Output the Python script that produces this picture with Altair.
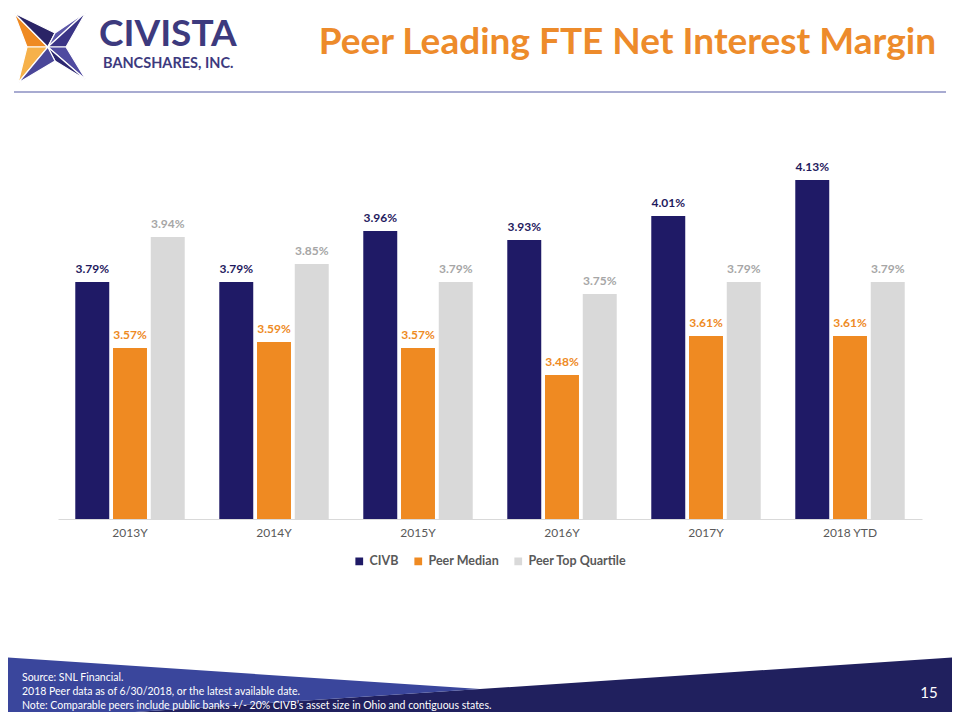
import altair as alt
import pandas as pd

# ---------------- data ----------------
years = ["2013Y", "2014Y", "2015Y", "2016Y", "2017Y", "2018 YTD"]
civb = [3.79, 3.79, 3.96, 3.93, 4.01, 4.13]
peer_median = [3.57, 3.59, 3.57, 3.48, 3.61, 3.61]
peer_top = [3.94, 3.85, 3.79, 3.75, 3.79, 3.79]
series = ["CIVB", "Peer Median", "Peer Top Quartile"]

bar_colors = ["#1f1a66", "#ef8a22", "#d9d9d9"]
label_colors = ["#1f1a5e", "#ee8a24", "#a6a6a6"]

title_text = "Peer Leading FTE Net Interest Margin"
footer_lines = [
    "Source: SNL Financial.",
    "2018 Peer data as of 6/30/2018, or the latest available date.",
    "Note: Comparable peers include public banks +/- 20% CIVB\u2019s asset size in Ohio and contiguous states.",
]
page_number = "15"

rows = []
for s, vals, lc in zip(series, [civb, peer_median, peer_top], label_colors):
    for yr, v in zip(years, vals):
        rows.append({"year": yr, "series": s, "value": v, "label": f"{v:.2f}%", "lc": lc})
df = pd.DataFrame(rows)
one = pd.DataFrame({"k": [0]})

# plot origin on the page
OX, OY = 58, 159
def px(x):
    return x - OX
def py(y):
    return y - OY

FONT = "Lato"

# ---------------- bars ----------------
x_enc = alt.X(
    "year:N", sort=years,
    scale=alt.Scale(paddingInner=0.24, paddingOuter=0.12),
    axis=alt.Axis(title=None, labelAngle=0, labelFont=FONT, labelFontSize=12,
                  labelColor="#595959", labelPadding=8, ticks=False,
                  domainColor="#d9d9d9", domainWidth=1, grid=False),
)
xo = alt.XOffset("series:N", sort=series, scale=alt.Scale(paddingInner=0.1))
y_enc = alt.Y("value:Q", scale=alt.Scale(domain=[3.0, 4.2], zero=False, nice=False), axis=None)

bars = alt.Chart(df).mark_bar().encode(
    x=x_enc, xOffset=xo, y=y_enc, y2=alt.datum(3.0),
    color=alt.Color(
        "series:N", sort=series,
        scale=alt.Scale(domain=series, range=bar_colors),
        legend=alt.Legend(title=None, orient="none", legendX=px(353), legendY=py(555),
                          direction="horizontal", symbolType="square", symbolSize=60,
                          symbolStrokeWidth=0, labelFont=FONT, labelFontSize=12.5,
                          labelFontWeight="bold", labelColor="#595959",
                          columnPadding=13, padding=0, labelOffset=4),
    ),
)

labels = alt.Chart(df).mark_text(
    font=FONT, fontWeight="bold", fontSize=12, baseline="alphabetic", dy=-9
).encode(
    x=x_enc, xOffset=xo, y=y_enc, text="label:N",
    color=alt.Color("lc:N", scale=None),
)

# ---------------- decorations ----------------
def poly_layer(path, color, cx, cy, half, stroke=None, sw=0):
    kw = dict(shape=path, filled=True, fill=color, opacity=1, size=(2 * half) ** 2)
    if stroke:
        kw.update(stroke=stroke, strokeWidth=sw)
    else:
        kw.update(strokeWidth=0)
    return alt.Chart(one).mark_point(**kw).encode(x=alt.value(px(cx)), y=alt.value(py(cy)))

# footer bands (center 480,688, half 480)
navy_path = "M -1 0.06875 L 1 -0.06458 L 1 0.08 L -1 0.08 Z"
blue_path = "M -1 -0.06458 L 0 0.00208 L -1 0.06875 Z"
footer_navy = poly_layer(navy_path, "#20205e", 480, 688, 480)
footer_blue = poly_layer(blue_path, "#3a469c", 480, 688, 480)

# logo star (center 47,47, half 40)
TL, TR, BR, BL = (-0.825, -0.85), (0.975, -0.875), (0.975, 0.825), (-0.725, 0.9)
TI, RI, BI, LI = (0.2, -0.35), (0.475, 0.0), (0.2, 0.35), (-0.5, 0.0)
C = (0.02, 0.0)
def tri(a, b, c):
    return f"M {a[0]} {a[1]} L {b[0]} {b[1]} L {c[0]} {c[1]} Z"
facets = [
    (tri(TL, LI, C), "#ef8a22"),
    (tri(BL, LI, C), "#f6b14a"),
    (tri(TL, TI, C), "#2a2466"),
    (tri(TR, TI, C), "#5c57a8"),
    (tri(TR, RI, C), "#3a3486"),
    (tri(BR, RI, C), "#4f4aa0"),
    (tri(BR, BI, C), "#2c2770"),
    (tri(BL, BI, C), "#4a4698"),
]
star = [poly_layer(p, c, 47, 47, 40, stroke="white", sw=1.2) for p, c in facets]

logo_main = alt.Chart(one).mark_text(
    text="CIVISTA", font=FONT, fontWeight="bold", fontSize=37, color="#3d3a7e",
    align="left", baseline="middle"
).encode(x=alt.value(px(99)), y=alt.value(py(35)))
logo_sub = alt.Chart(one).mark_text(
    text="BANCSHARES, INC.", font=FONT, fontWeight="bold", fontSize=14.5, color="#3d3a7e",
    align="left", baseline="middle"
).encode(x=alt.value(px(103)), y=alt.value(py(64)))

header_rule = alt.Chart(one).mark_rule(color="#8b8fc2", strokeWidth=1.5).encode(
    x=alt.value(px(14)), x2=alt.value(px(946)), y=alt.value(py(92))
)

title = alt.Chart(one).mark_text(
    text=title_text, font=FONT, fontWeight="bold", fontSize=37, color="#ed8b2b",
    align="right", baseline="middle"
).encode(x=alt.value(px(936)), y=alt.value(py(43)))

foot_texts = [
    alt.Chart(one).mark_text(
        text=t, font=FONT, fontSize=10.5, color="white", align="left", baseline="middle"
    ).encode(x=alt.value(px(22)), y=alt.value(py(yy)))
    for t, yy in zip(footer_lines, [678, 692, 706])
]
page_no = alt.Chart(one).mark_text(
    text=page_number, font=FONT, fontSize=15, color="white", align="center", baseline="middle"
).encode(x=alt.value(px(929)), y=alt.value(py(693)))

chart = alt.layer(
    footer_navy, footer_blue, *star, logo_main, logo_sub, header_rule, title,
    bars, labels, *foot_texts, page_no
).properties(
    width=864, height=360,
    padding={"left": 50, "top": 151, "right": 30, "bottom": 193},
    autosize=alt.AutoSizeParams(type="none"),
    background="white",
).configure_view(stroke=None)

chart.save("out.html", embed_options={"renderer": "svg", "actions": False})
